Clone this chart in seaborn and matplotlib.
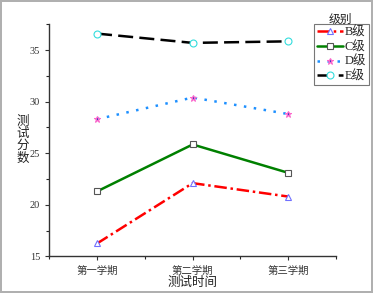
import numpy as np
import pandas as pd
import seaborn as sns
import matplotlib.pyplot as plt
from matplotlib.ticker import MultipleLocator

# -------------------------------
# Data
# -------------------------------
terms = ['第一学期', '第二学期', '第三学期']
levels = ['B级', 'C级', 'D级', 'E级']
b_scores = [16.25, 22.1, 20.8]
c_scores = [21.3, 25.85, 23.1]
d_scores = [28.3, 30.4, 28.8]
e_scores = [36.6, 35.7, 35.85]

rows = []
for lvl, vals in zip(levels, [b_scores, c_scores, d_scores, e_scores]):
    for i, v in enumerate(vals):
        rows.append({'term': i, 'score': v, 'level': lvl})
df = pd.DataFrame(rows)

# -------------------------------
# Styles
# -------------------------------
sns.set_style('ticks')
fonts = ['Liberation Serif', 'Noto Sans CJK SC']
plt.rcParams['font.family'] = fonts

styles = {
    'B级': dict(color='red', dashes=(5, 1.5, 1, 1.5), marker='^', mfc='white', mec='#7070ff'),
    'C级': dict(color='green', dashes=None, marker='s', mfc='white', mec='#555555'),
    'D级': dict(color='#1e90ff', dashes=(1, 3), marker='*', mfc='#4040c0', mec='#ff66cc'),
    'E级': dict(color='black', dashes=(6, 2.5), marker='o', mfc='white', mec='#33dddd'),
}

fig = plt.figure(figsize=(3.73, 2.93), dpi=100)
fig.patch.set_edgecolor('#b0b0b0')
fig.patch.set_linewidth(1.5)
ax = fig.add_axes([0.132, 0.125, 0.769, 0.792])

for lvl in levels:
    s = styles[lvl]
    sub = df[df['level'] == lvl]
    line = sns.lineplot(data=sub, x='term', y='score', ax=ax, color=s['color'],
                        linewidth=1.8, marker=s['marker'], markersize=5,
                        markerfacecolor=s['mfc'], markeredgecolor=s['mec'],
                        markeredgewidth=0.8, label=lvl).lines[-1]
    if s['dashes'] is not None:
        line.set_dashes(s['dashes'])

ax.set_xlim(-0.5, 2.5)
ax.set_ylim(15, 37.5)
ax.set_xticks(range(len(terms)))
ax.set_xticklabels(terms, fontsize=7)
ax.xaxis.set_minor_locator(MultipleLocator(0.5))
ax.yaxis.set_major_locator(MultipleLocator(5))
ax.yaxis.set_minor_locator(MultipleLocator(2.5))
ax.tick_params(axis='both', which='major', length=3, width=0.8, labelsize=7.5, colors='#333333')
ax.tick_params(axis='both', which='minor', length=2, width=0.8)
for sp in ['left', 'bottom']:
    ax.spines[sp].set_color('#333333')
    ax.spines[sp].set_linewidth(1)
sns.despine(ax=ax)

ax.set_xlabel('测试时间', fontsize=9, labelpad=1, color='#222222')
ax.set_ylabel('测\n试\n分\n数', fontsize=9, rotation=0, labelpad=5,
              va='center', linespacing=1.0, color='#222222')

ax.get_legend().remove()
handles, labels = ax.get_legend_handles_labels()
leg = fig.legend(handles, labels, loc='upper left', bbox_to_anchor=(0.842, 0.918),
                 bbox_transform=fig.transFigure, fontsize=9, frameon=True,
                 fancybox=False, edgecolor='#555555', handlelength=2.1,
                 handletextpad=0.15, borderpad=0.2, labelspacing=0.2,
                 borderaxespad=0)
leg.get_frame().set_linewidth(0.8)
fig.text(0.912, 0.932, '级别', fontsize=8.5, ha='center', va='center', color='#222222')

fig.savefig('out.png', dpi=100)
